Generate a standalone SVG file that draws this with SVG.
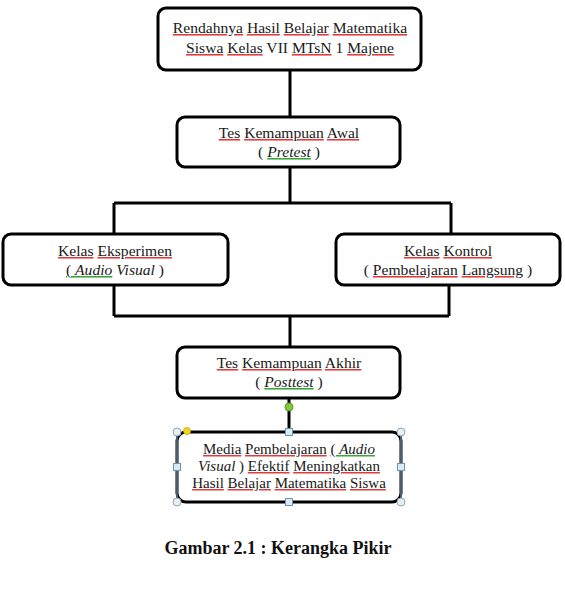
<svg xmlns="http://www.w3.org/2000/svg" width="565" height="598" viewBox="0 0 565 598">
<style>
.box{fill:#fff;stroke:#000;stroke-width:3}
.ln{fill:none;stroke:#000;stroke-width:3}
.t{font-family:"Liberation Serif","Times New Roman",serif;font-size:15.6px;fill:#1a1a1a;text-anchor:middle}
.s{font-size:15px}
.i{font-style:italic}
.r{text-decoration:underline;fill:#e03a3a}
.g{text-decoration:underline;fill:#3aa33a}
.k{fill:#1a1a1a}
.cap{font-family:"Liberation Serif","Times New Roman",serif;font-size:18px;font-weight:bold;fill:#111;text-anchor:middle}
.hc{fill:#e4f0f5;stroke:#8fa6b4;stroke-width:1}
.hs{fill:#d6ebf5;stroke:#6f93ad;stroke-width:1}
</style>
<g id="connectors">
<path class="ln" d="M290 70V117"/>
<path class="ln" d="M290 167V203M114 203H451M114 203V234M451 203V234"/>
<path class="ln" d="M114 285V316M449 285V316M114 316H449M290 316V347"/>
<path class="ln" d="M289 398V432"/>
</g>
<g id="n1">
<rect class="box" x="158" y="8" width="263" height="62" rx="8"/>
<text class="t" x="290" y="33"><tspan class="r"><tspan class="k">Rendahnya</tspan></tspan> <tspan class="r"><tspan class="k">Hasil</tspan></tspan> <tspan class="r"><tspan class="k">Belajar</tspan></tspan> <tspan class="r"><tspan class="k">Matematika</tspan></tspan></text>
<text class="t" x="290" y="53"><tspan class="r"><tspan class="k">Siswa</tspan></tspan> <tspan class="r"><tspan class="k">Kelas</tspan></tspan> VII <tspan class="r"><tspan class="k">MTsN</tspan></tspan> 1 <tspan class="r"><tspan class="k">Majene</tspan></tspan></text>
</g>
<g id="n2">
<rect class="box" x="177" y="117" width="223" height="50" rx="8"/>
<text class="t" x="289" y="138"><tspan class="r"><tspan class="k">Tes</tspan></tspan> <tspan class="r"><tspan class="k">Kemampuan</tspan></tspan> <tspan class="r"><tspan class="k">Awal</tspan></tspan></text>
<text class="t" x="289" y="157">( <tspan class="g"><tspan class="k i">Pretest</tspan></tspan> )</text>
</g>
<g id="n3">
<rect class="box" x="3" y="234" width="225" height="51" rx="8"/>
<text class="t" x="115" y="256"><tspan class="r"><tspan class="k">Kelas</tspan></tspan> <tspan class="r"><tspan class="k">Eksperimen</tspan></tspan></text>
<text class="t" x="115" y="275"><tspan class="g"><tspan class="k">( </tspan><tspan class="k i">Audio</tspan></tspan> <tspan class="i">Visual</tspan> )</text>
</g>
<g id="n4">
<rect class="box" x="336" y="234" width="224" height="51" rx="8"/>
<text class="t" x="448" y="256"><tspan class="r"><tspan class="k">Kelas</tspan></tspan> <tspan class="r"><tspan class="k">Kontrol</tspan></tspan></text>
<text class="t" x="448" y="275"><tspan class="g"><tspan class="k">(</tspan></tspan> <tspan class="r"><tspan class="k">Pembelajaran</tspan></tspan> <tspan class="r"><tspan class="k">Langsung</tspan></tspan> )</text>
</g>
<g id="n5">
<rect class="box" x="177" y="347" width="223" height="51" rx="8"/>
<text class="t" x="289" y="368"><tspan class="r"><tspan class="k">Tes</tspan></tspan> <tspan class="r"><tspan class="k">Kemampuan</tspan></tspan> <tspan class="r"><tspan class="k">Akhir</tspan></tspan></text>
<text class="t" x="289" y="387">( <tspan class="g"><tspan class="k i">Posttest</tspan></tspan> )</text>
</g>
<g id="n6">
<rect class="box" x="177" y="432" width="224" height="70" rx="9" stroke="#1c2530"/>
<path d="M401 436V498M177 436V498" stroke="#4a5d70" stroke-width="2" fill="none"/>
<text class="t s" x="289" y="454"><tspan class="r"><tspan class="k">Media</tspan></tspan> <tspan class="r"><tspan class="k">Pembelajaran</tspan></tspan> <tspan class="g"><tspan class="k">( </tspan><tspan class="k i">Audio</tspan></tspan></text>
<text class="t s" x="289" y="471"><tspan class="i">Visual</tspan> ) <tspan class="r"><tspan class="k">Efektif</tspan></tspan> <tspan class="r"><tspan class="k">Meningkatkan</tspan></tspan></text>
<text class="t s" x="289" y="488"><tspan class="r"><tspan class="k">Hasil</tspan></tspan> <tspan class="r"><tspan class="k">Belajar</tspan></tspan> <tspan class="r"><tspan class="k">Matematika</tspan></tspan> <tspan class="r"><tspan class="k">Siswa</tspan></tspan></text>
<circle cx="289" cy="407" r="4" fill="#7ecb3c" stroke="#5a9a2a" stroke-width="1"/>
<circle class="hc" cx="177" cy="432" r="4"/>
<circle class="hc" cx="401" cy="432" r="4"/>
<circle class="hc" cx="177" cy="502" r="4"/>
<circle class="hc" cx="401" cy="502" r="4"/>
<rect class="hs" x="285.5" y="428.5" width="7" height="7"/>
<rect class="hs" x="285.5" y="498.5" width="7" height="7"/>
<rect class="hs" x="173.5" y="463.5" width="7" height="7"/>
<rect class="hs" x="397.5" y="463.5" width="7" height="7"/>
<circle cx="187" cy="431" r="3.5" fill="#f2d61a" stroke="#c9a800" stroke-width="0.8"/>
</g>
<text class="cap" x="278" y="554">Gambar 2.1 : Kerangka Pikir</text>
</svg>
